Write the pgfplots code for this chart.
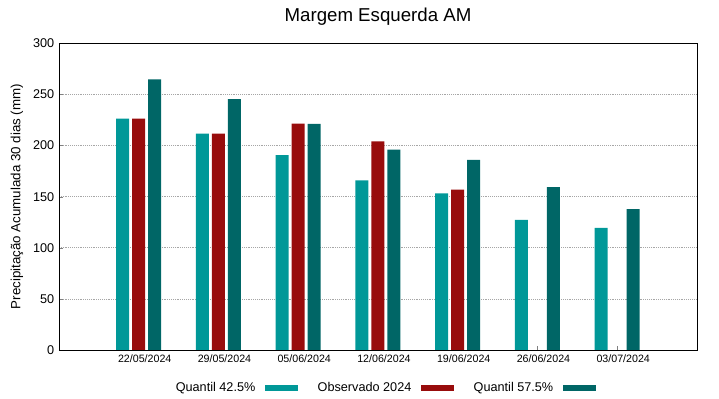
\documentclass[border=0pt]{standalone}
\usepackage{pgfplots}
\pgfplotsset{compat=1.18}
\usepackage{fontspec}
\setmainfont{Liberation Sans}
\definecolor{cA}{RGB}{0,152,152}
\definecolor{cB}{RGB}{152,12,12}
\definecolor{cC}{RGB}{0,102,102}
\begin{document}
\begin{tikzpicture}
\begin{axis}[
  at={(0,0)}, anchor=south west,
  scale only axis, width=478.5pt, height=230pt,
  ybar=2.25pt, bar width=9.75pt,
  xmin=0, xmax=8, ymin=0, ymax=300,
  xtick={1,2,3,4,5,6,7},
  xticklabels={22/05/2024,29/05/2024,05/06/2024,12/06/2024,19/06/2024,26/06/2024,03/07/2024},
  xticklabel style={font=\fontsize{8}{9}\selectfont, xshift=4.5pt},
  ytick={0,50,100,150,200,250,300},
  yticklabel style={font=\fontsize{9.5}{11}\selectfont},
  /pgf/number format/assume math mode=true,
  tick align=inside, major tick length=3pt,
  xtick pos=bottom, ytick pos=left,
  ymajorgrids, major grid style={densely dotted, gray!70, line width=0.5pt},
  axis line style={black, line width=0.6pt},
  title={Margem Esquerda AM},
  title style={font=\fontsize{14}{16}\selectfont, at={(axis description cs:0.5,1)}, anchor=center, yshift=14pt},
  ylabel={Precipitação Acumulada 30 dias (mm)},
  ylabel style={font=\fontsize{10}{12}\selectfont, at={(axis description cs:-0.066,0.5)}, anchor=center},
  legend plot pos=right,
  legend columns=3,
  legend style={draw=none, fill=none, at={(axis description cs:0.51,-0.124)}, anchor=center,
    font=\fontsize{9.5}{11}\selectfont,
    /tikz/every even column/.append style={column sep=13pt},
    /tikz/every odd column/.append style={column sep=5pt}},
  legend image code/.code={\fill[#1] (0pt,-2.25pt) rectangle (24.75pt,2.25pt);},
]
\addplot[fill=cA, draw=none] coordinates {(1,226.4) (2,211.7) (3,190.6) (4,166) (5,153.1) (6,127.3) (7,119.5)};
\addlegendentry{Quantil 42.5\%}
\addplot[fill=cB, draw=none] coordinates {(1,226.4) (2,211.7) (3,221.5) (4,204) (5,157)};
\addlegendentry{Observado 2024}
\addplot[fill=cC, draw=none] coordinates {(1,264.8) (2,245.3) (3,221.2) (4,196) (5,186) (6,159.3) (7,137.8)};
\addlegendentry{Quantil 57.5\%}
\end{axis}
\pgfresetboundingbox
\path[use as bounding box] (-44.25pt,-36.75pt) rectangle (495pt,262.5pt);
\end{tikzpicture}
\end{document}
